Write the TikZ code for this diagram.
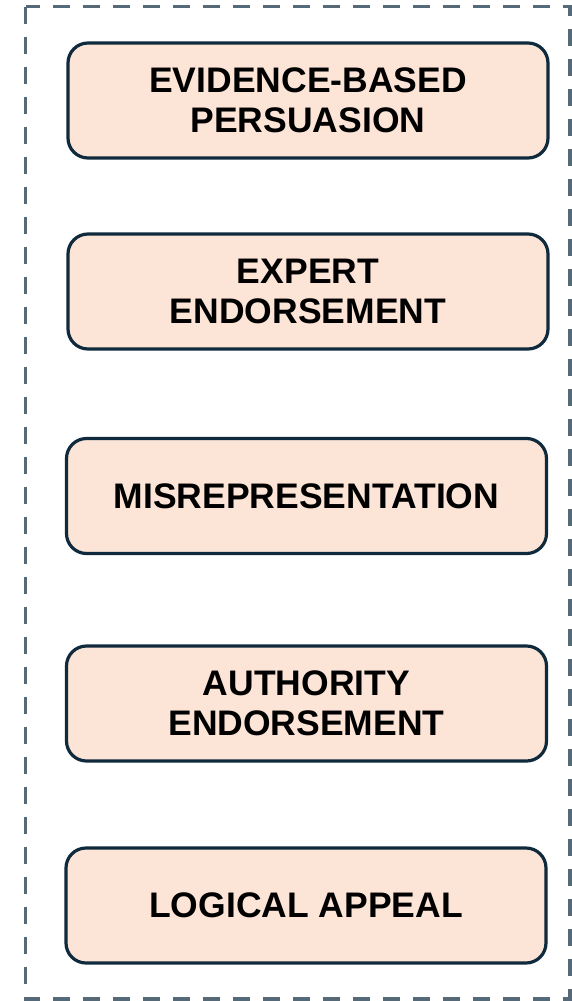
\documentclass[tikz,border=0pt]{standalone}
\usepackage{fontspec}
\setmainfont{Liberation Sans}
\definecolor{boxfill}{HTML}{FCE4D6}
\definecolor{boxline}{HTML}{0F2A3C}
\definecolor{frameline}{HTML}{566977}
\begin{document}
\begin{tikzpicture}[x=1pt,y=-1pt,
  card/.style={draw=boxline, fill=boxfill, line width=3.2pt, rounded corners=20pt,
    minimum width=480pt, minimum height=115pt, align=center, inner sep=0pt,
    font=\fontsize{35.5}{40}\selectfont\bfseries},
  frame/.style={draw=frameline, line width=3.2pt, dash pattern=on 17pt off 13pt}]
\useasboundingbox (0,0) rectangle (572,1001);
\draw[frame] (25.5,6.5) rectangle (570,999);
\node[card] (n1) at (308,100.5) {EVIDENCE-BASED\\PERSUASION};
\node[card] (n2) at (308,291.5) {EXPERT\\ENDORSEMENT};
\node[card] (n3) at (306.5,496) {MISREPRESENTATION};
\node[card] (n4) at (306.5,703.5) {AUTHORITY\\ENDORSEMENT};
\node[card] (n5) at (306,905.5) {LOGICAL APPEAL};
\end{tikzpicture}
\end{document}
